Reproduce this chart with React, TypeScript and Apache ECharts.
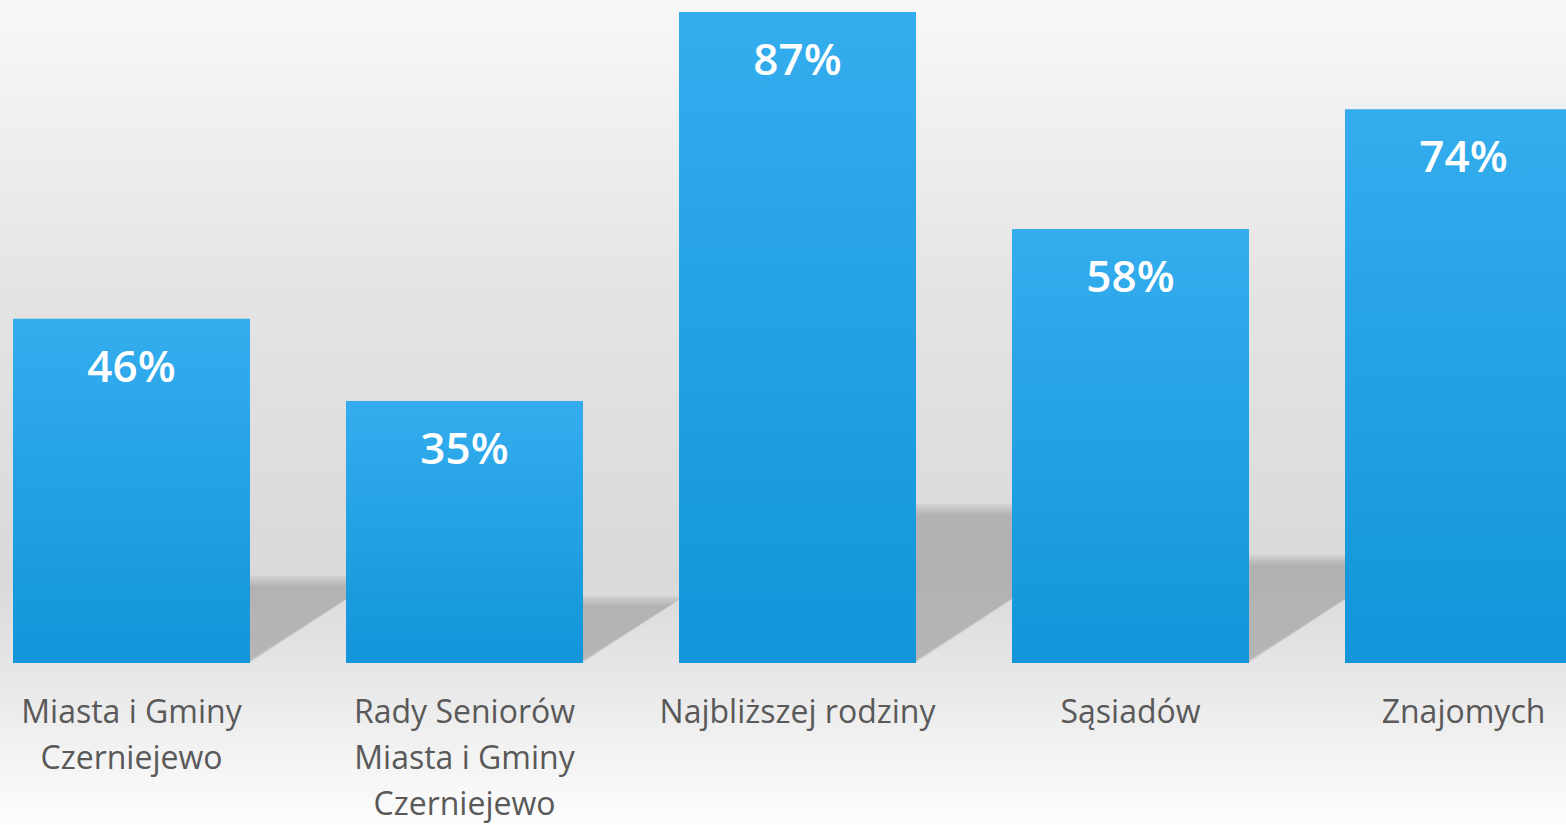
import React, { useEffect, useRef } from "react";
import * as echarts from "echarts";

const categories = [
  "Miasta i Gminy Czerniejewo",
  "Rady Seniorów Miasta i Gminy Czerniejewo",
  "Najbliższej rodziny",
  "Sąsiadów",
  "Znajomych",
];
const tickLabels = [
  "Miasta i Gminy\nCzerniejewo",
  "Rady Seniorów\nMiasta i Gminy\nCzerniejewo",
  "Najbliższej rodziny",
  "Sąsiadów",
  "Znajomych",
];
const values = [46, 35, 87, 58, 74];

export default function App() {
  const ref = useRef<HTMLDivElement>(null);
  useEffect(() => {
    document.body.style.margin = "0";
    const chart = echarts.init(ref.current!, null, { renderer: "svg" });
    const BAR_W = 237;
    chart.setOption({
      animation: false,
      backgroundColor: new echarts.graphic.LinearGradient(0, 0, 0, 1, [
        { offset: 0, color: "#f8f8f8" },
        { offset: 0.35, color: "#e4e4e4" },
        { offset: 0.7, color: "#d9d9d9" },
        { offset: 0.81, color: "#e6e6e6" },
        { offset: 1, color: "#fdfdfd" },
      ]),
      grid: { left: 0, right: 0, top: 12, bottom: 157, containLabel: false },
      xAxis: {
        type: "category",
        data: categories,
        axisLine: { show: false },
        axisTick: { show: false },
        axisLabel: {
          interval: 0,
          margin: 24,
          color: "#595959",
          fontSize: 32,
          lineHeight: 46,
          fontFamily: "Open Sans",
          formatter: (_v: string, i: number) => tickLabels[i],
        },
      },
      yAxis: { type: "value", min: 0, max: 87, show: false, splitLine: { show: false } },
      series: [
        {
          type: "custom",
          z: 1,
          silent: true,
          data: values.map((v, i) => [i, v]),
          renderItem: (params: any, api: any) => {
            const idx = api.value(0);
            const v = api.value(1);
            const top = api.coord([idx, v]);
            const base = api.coord([idx, 0]);
            const h = base[1] - top[1];
            const sh = h * 0.235;
            const R = top[0] + BAR_W / 2;
            const B = base[1];
            const children: any[] = [];
            for (let k = 0; k < 5; k++) {
              const e = (4 - k) * 2.5 - 4;
              children.push({
                type: "polygon",
                shape: {
                  points: [
                    [R, B - 2 + e * 0.3],
                    [R, B - sh - e],
                    [R + sh / 0.66 + e * 1.5, B - sh - e],
                  ],
                },
                style: { fill: "rgba(140,140,140,0.13)" },
              });
            }
            return { type: "group", children };
          },
        },
        {
          type: "bar",
          z: 2,
          data: values,
          barWidth: BAR_W,
          itemStyle: {
            color: new echarts.graphic.LinearGradient(0, 0, 0, 1, [
              { offset: 0, color: "#34adee" },
              { offset: 1, color: "#1295d9" },
            ]),
          },
          label: {
            show: true,
            position: "insideTop",
            distance: 24,
            color: "#ffffff",
            fontSize: 44,
            fontWeight: 600,
            fontFamily: "Open Sans",
            formatter: (p: any) => p.value + "%",
          },
        },
      ],
    });
    return () => chart.dispose();
  }, []);
  return (
    <div style={{ width: 1566, height: 825, overflow: "hidden", position: "relative" }}>
      <div ref={ref} style={{ position: "absolute", left: -35, top: 0, width: 1665, height: 825 }} />
    </div>
  );
}
